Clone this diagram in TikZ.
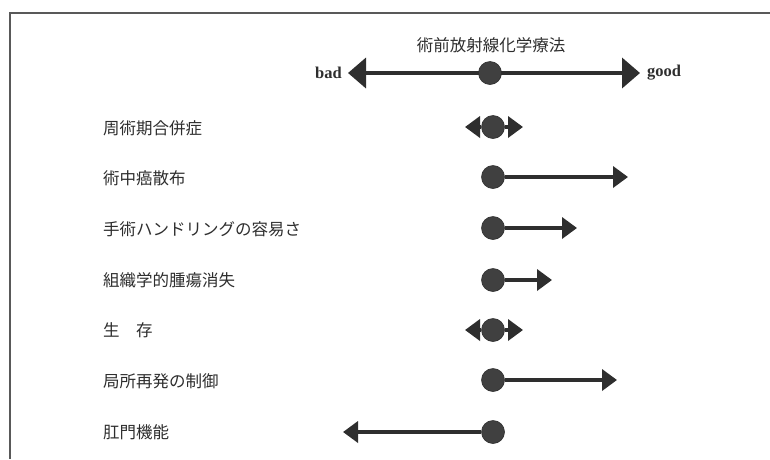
\documentclass[tikz,border=0pt]{standalone}
\usepackage{fontspec}
\setmainfont{Liberation Serif}
\newfontfamily\jfont{Noto Sans CJK JP}
\usetikzlibrary{arrows.meta}
\definecolor{ink}{HTML}{2E2E2E}
\definecolor{ball}{HTML}{404040}
\tikzset{
  ball/.style={circle, fill=ball, draw=ink, line width=0.6pt, minimum size=23pt, inner sep=0pt},
  arr/.style={draw=ink, line width=3.6pt, -{Triangle[length=15pt,width=21pt]}, color=ink},
  bigarr/.style={draw=ink, line width=3.8pt, {Triangle[length=18pt,width=30pt]}-{Triangle[length=18pt,width=30pt]}, color=ink},
  lbl/.style={anchor=west, inner sep=0pt, font=\jfont\fontsize{16.5pt}{18pt}\selectfont, text=ink},
  eng/.style={inner sep=0pt, font=\bfseries\fontsize{16.5pt}{18pt}\selectfont, text=ink},
  frame/.style={draw=gray!70!black, line width=1.3pt}
}
\begin{document}
\begin{tikzpicture}[x=1pt,y=-1pt]
\useasboundingbox (0,0) rectangle (770,459);
\fill[white] (0,0) rectangle (770,459);
% frame
\coordinate (fa) at (770,13);
\coordinate (fb) at (10,13);
\coordinate (fc) at (10,459);
\draw[frame] (fa) -- (fb) -- (fc);
% title and scale
\node[lbl, anchor=center] (title) at (491,45) {術前放射線化学療法};
\coordinate (bl) at (348,73);
\coordinate (br) at (640,73);
\draw[bigarr] (bl) -- (br);
\node[ball] (c0) at (490,73) {};
\node[eng, anchor=east] (bad) at (342,73) {bad};
\node[eng, anchor=west] (good) at (647,73) {good};
% rows
\node[lbl] (t1) at (103,128) {周術期合併症};
\node[lbl] (t2) at (103,178) {術中癌散布};
\node[lbl] (t3) at (103,229) {手術ハンドリングの容易さ};
\node[lbl] (t4) at (103,280) {組織学的腫瘍消失};
\node[lbl] (t5) at (103,330) {生　存};
\node[lbl] (t6) at (103,381) {局所再発の制御};
\node[lbl] (t7) at (103,432) {肛門機能};
% circles
\node[ball] (c1) at (493,127) {};
\node[ball] (c2) at (493,177) {};
\node[ball] (c3) at (493,228) {};
\node[ball] (c4) at (493,280) {};
\node[ball] (c5) at (493,330) {};
\node[ball] (c6) at (493,380) {};
\node[ball] (c7) at (493,432) {};
% tips
\coordinate (l1) at (465,127);
\coordinate (r1) at (523,127);
\coordinate (e2) at (628,177);
\coordinate (e3) at (577,228);
\coordinate (e4) at (552,280);
\coordinate (l5) at (465,330);
\coordinate (r5) at (523,330);
\coordinate (e6) at (617,380);
\coordinate (e7) at (343,432);
\draw[arr] (c1) -- (l1);
\draw[arr] (c1) -- (r1);
\draw[arr] (c2) -- (e2);
\draw[arr] (c3) -- (e3);
\draw[arr] (c4) -- (e4);
\draw[arr] (c5) -- (l5);
\draw[arr] (c5) -- (r5);
\draw[arr] (c6) -- (e6);
\draw[arr] (c7) -- (e7);
\end{tikzpicture}
\end{document}
